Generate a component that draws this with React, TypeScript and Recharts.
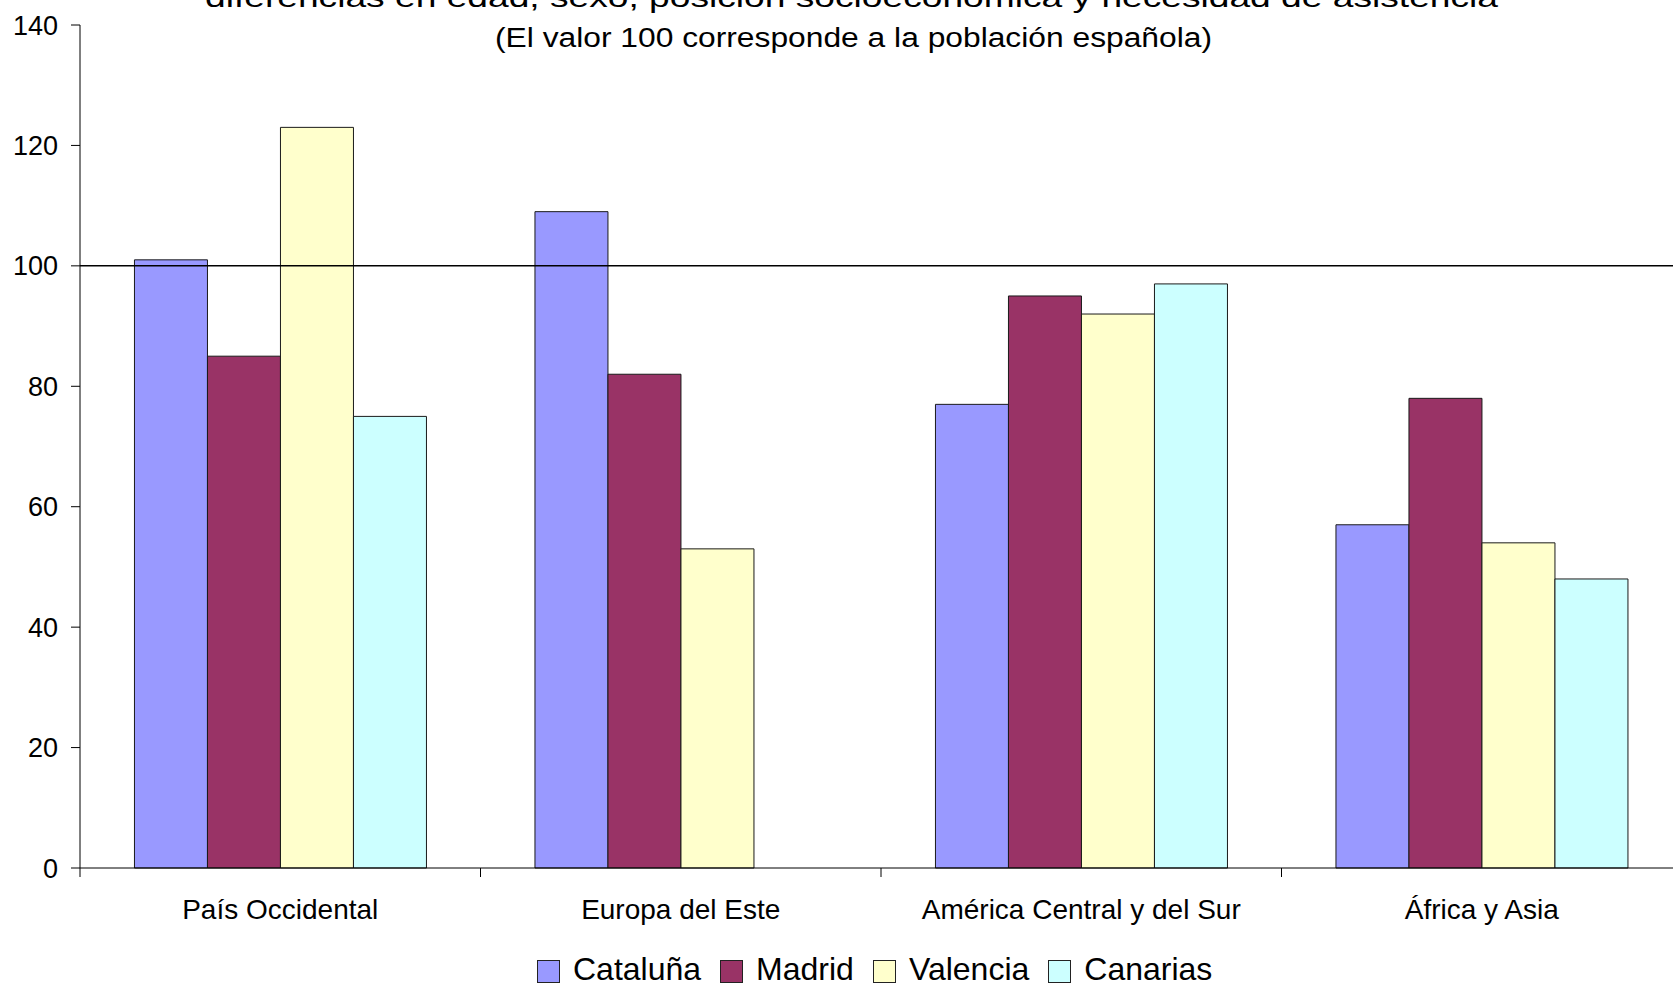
import React from "react";
import {
  BarChart,
  Bar,
  XAxis,
  YAxis,
  ReferenceLine,
  Legend,
} from "recharts";

const regions = [
  "País Occidental",
  "Europa del Este",
  "América Central y del Sur",
  "África y Asia",
];
const cataluna = [101, 109, 77, 57];
const madrid = [85, 82, 95, 78];
const valencia = [123, 53, 92, 54];
const canarias = [75, null, 97, 48];

const yTicks = [0, 20, 40, 60, 80, 100, 120, 140];

const titleLine1 =
  "diferencias en edad, sexo, posición socioeconómica y necesidad de asistencia";
const titleLine2 = "(El valor 100 corresponde a la población española)";

const series = [
  { key: "cataluna", name: "Cataluña", color: "#9999FF" },
  { key: "madrid", name: "Madrid", color: "#993366" },
  { key: "valencia", name: "Valencia", color: "#FFFFCC" },
  { key: "canarias", name: "Canarias", color: "#CCFFFF" },
];

const data = regions.map((region, i) => ({
  region,
  cataluna: cataluna[i],
  madrid: madrid[i],
  valencia: valencia[i],
  canarias: canarias[i],
}));

const font = '"Liberation Sans", Arial, sans-serif';
const LABEL_GAP = 31;
const SEP_LEN = 9;

// category label + separator ticks on the band edges (Excel style)
const CategoryTick = (props: any) => {
  const { x, y, payload, index, visibleTicksCount } = props;
  const half = payload.offset || 0;
  const axisY = y - LABEL_GAP;
  return (
    <g>
      <line
        x1={x - half}
        x2={x - half}
        y1={axisY}
        y2={axisY + SEP_LEN}
        stroke="#000"
      />
      {index === visibleTicksCount - 1 && (
        <line
          x1={x + half}
          x2={x + half}
          y1={axisY}
          y2={axisY + SEP_LEN}
          stroke="#000"
        />
      )}
      <text
        x={x}
        y={y}
        dy="0.71em"
        textAnchor="middle"
        fill="#000"
        fontSize={28}
        fontFamily={font}
      >
        {payload.value}
      </text>
    </g>
  );
};

const LegendBox = () => (
  <div style={{ display: "flex", alignItems: "center", height: 28 }}>
    {series.map((s) => (
      <div
        key={s.key}
        style={{ display: "flex", alignItems: "center", marginRight: 19 }}
      >
        <span
          style={{
            display: "inline-block",
            width: 21,
            height: 21,
            background: s.color,
            border: "1px solid #222",
            marginRight: 13,
            position: "relative",
            top: 2,
          }}
        />
        <span
          style={{
            fontFamily: font,
            fontSize: 32,
            lineHeight: "28px",
            color: "#000",
          }}
        >
          {s.name}
        </span>
      </div>
    ))}
  </div>
);

export default function App() {
  return (
    <div
      style={{
        position: "fixed",
        left: 0,
        top: 0,
        width: 1673,
        height: 987,
        overflow: "hidden",
        background: "#fff",
      }}
    >
      <BarChart
        width={1700}
        height={987}
        data={data}
        margin={{ top: 25, right: 18, bottom: 21, left: 0 }}
        barCategoryGap="13.6%"
        barGap={0}
        style={{ fontFamily: font }}
      >
        <XAxis
          dataKey="region"
          interval={0}
          tickLine={false}
          axisLine={{ stroke: "#000" }}
          tickSize={0}
          tickMargin={LABEL_GAP}
          height={70}
          tick={<CategoryTick />}
        />
        <YAxis
          domain={[0, 140]}
          ticks={yTicks}
          width={80}
          tickSize={9}
          tickMargin={13}
          axisLine={{ stroke: "#000" }}
          tickLine={{ stroke: "#000" }}
          tick={{ fill: "#000", fontSize: 27, fontFamily: font }}
          interval={0}
        />
        {series.map((s) => (
          <Bar
            key={s.key}
            dataKey={s.key}
            name={s.name}
            fill={s.color}
            stroke="#1a1a1a"
            strokeWidth={1}
            isAnimationActive={false}
          />
        ))}
        <ReferenceLine y={100} stroke="#000" strokeWidth={1.5} />
        <Legend
          content={<LegendBox />}
          wrapperStyle={{ top: 955, left: 537, width: 800, height: 28 }}
        />
        <text
          x={851.5}
          y={7}
          textAnchor="middle"
          fontFamily={font}
          fontSize={27}
          fill="#000"
          textLength={1293}
          lengthAdjust="spacingAndGlyphs"
        >
          {titleLine1}
        </text>
        <text
          x={853.5}
          y={46.7}
          textAnchor="middle"
          fontFamily={font}
          fontSize={27}
          fill="#000"
          textLength={717}
          lengthAdjust="spacingAndGlyphs"
        >
          {titleLine2}
        </text>
      </BarChart>
    </div>
  );
}
